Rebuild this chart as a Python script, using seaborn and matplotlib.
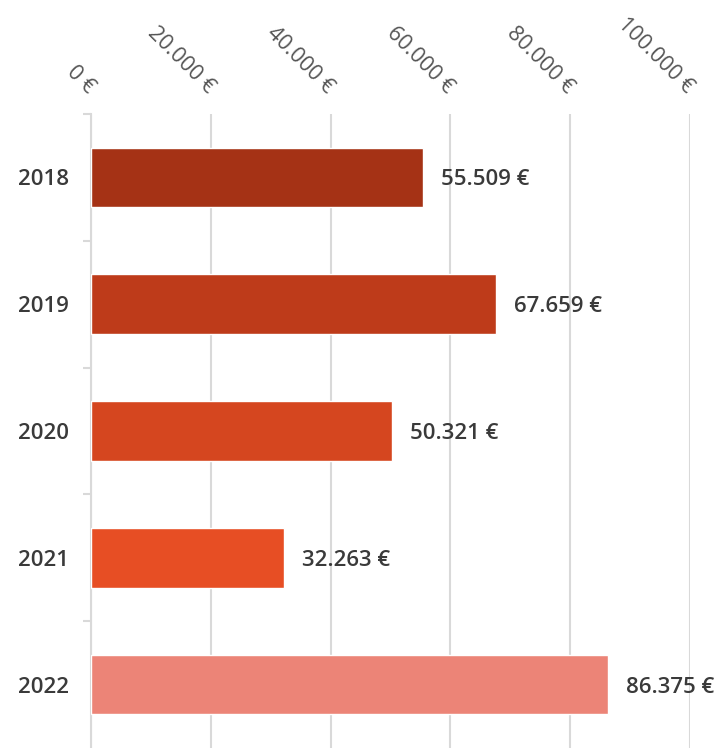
import matplotlib
matplotlib.use("Agg")
import matplotlib.pyplot as plt
from matplotlib.ticker import FixedLocator, FuncFormatter
import seaborn as sns
import pandas as pd

years = ["2018", "2019", "2020", "2021", "2022"]
values = [55509, 67659, 50321, 32263, 86375]
colors = ["#A53215", "#BE3B1A", "#D5461F", "#E74E24", "#EC8477"]

df = pd.DataFrame({"year": years, "value": values})

sns.set_style("white")
plt.rcParams["font.family"] = ["Open Sans", "DejaVu Sans"]

fig = plt.figure(figsize=(7.27, 7.48), dpi=100)
ax = fig.add_axes([91 / 727, 0.0, 599 / 727, 1 - 114 / 748])

sns.barplot(data=df, x="value", y="year", hue="year", palette=colors,
            saturation=1, orient="h", width=0.47, legend=False, ax=ax,
            zorder=3)

def euro(v):
    return f"{int(round(v)):,}".replace(",", ".") + " €"

ax.set_xlim(0, 100000)
ax.set_ylim(4.5, -0.5)
ax.xaxis.set_major_locator(FixedLocator([0, 20000, 40000, 60000, 80000, 100000]))
ax.xaxis.set_major_formatter(FuncFormatter(lambda v, p: euro(v)))
ax.xaxis.tick_top()
ax.xaxis.grid(True, color="#D9D9D9", linewidth=1.5, zorder=0)
ax.tick_params(axis="x", length=0, pad=17, labelsize=15.5, labelcolor="#555555")
for lab in ax.get_xticklabels():
    lab.set_rotation(-45)
    lab.set_rotation_mode("anchor")
    lab.set_ha("right")
    lab.set_va("center")

ax.set_yticks(range(len(years)))
ax.set_yticklabels(years)
ax.yaxis.set_minor_locator(FixedLocator([-0.5, 0.5, 1.5, 2.5, 3.5]))
ax.tick_params(axis="y", which="major", length=0, pad=16, labelsize=16,
               labelcolor="#3A3A3A")
for lab in ax.get_yticklabels():
    lab.set_fontweight("semibold")
ax.tick_params(axis="y", which="minor", left=True, length=6, width=1.5,
               color="#D9D9D9")

for s in ["top", "right", "bottom"]:
    ax.spines[s].set_visible(False)
ax.spines["left"].set_color("#D9D9D9")
ax.spines["left"].set_linewidth(1.5)

for i, v in enumerate(values):
    ax.text(v + 3000, i, euro(v), va="center_baseline", ha="left",
            fontsize=16, fontweight="semibold", color="#3A3A3A", zorder=4)

ax.set_xlabel("")
ax.set_ylabel("")

fig.savefig("out.png", dpi=100)
